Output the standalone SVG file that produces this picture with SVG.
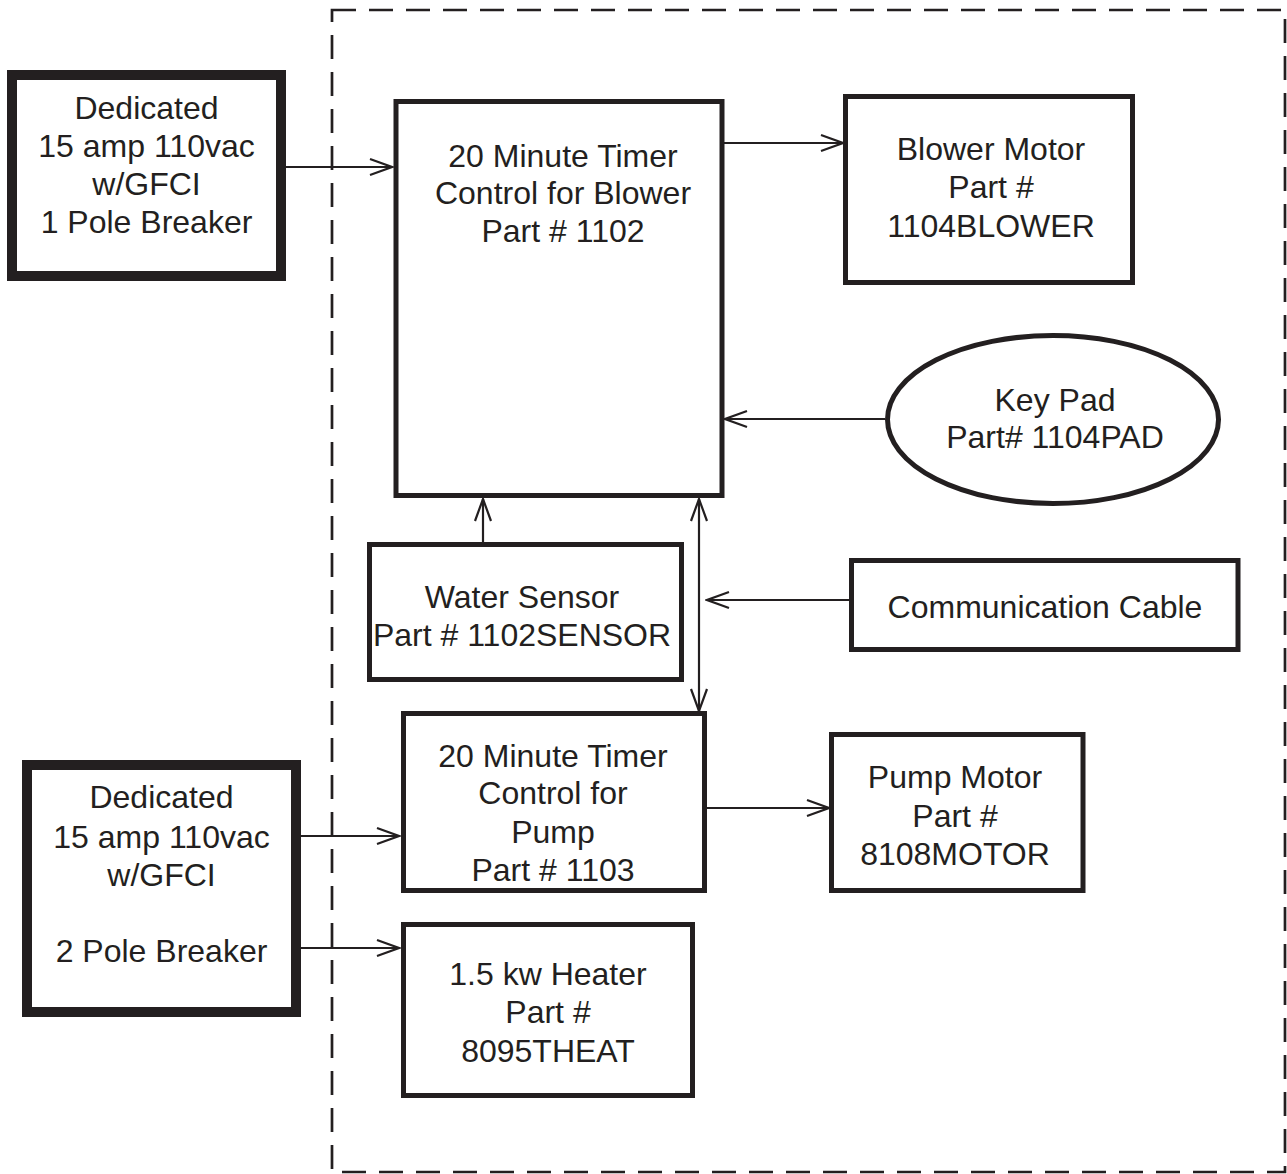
<svg xmlns="http://www.w3.org/2000/svg" width="1287" height="1174" viewBox="0 0 1287 1174">
<style>
  .bg { fill: #ffffff; }
  .box { fill: #ffffff; stroke: #231f20; stroke-width: 5; }
  .thick { fill: #ffffff; stroke: #231f20; stroke-width: 10; }
  .frame { fill: none; stroke: #231f20; stroke-width: 2.7; stroke-dasharray: 24 13; }
  .conn { fill: none; stroke: #231f20; stroke-width: 2.2; }
  text { font-family: "Liberation Sans", Arial, Helvetica, sans-serif; font-size: 32px; fill: #231f20; text-anchor: middle; }
</style>
<defs>
  <marker id="arr" viewBox="-2 -2 26 20" refX="22" refY="8" markerWidth="26" markerHeight="20" markerUnits="userSpaceOnUse" orient="auto-start-reverse">
    <path d="M0,0 L22,8 L0,16" fill="none" stroke="#231f20" stroke-width="2.2"/>
  </marker>
</defs>
<rect class="bg" x="0" y="0" width="1287" height="1174"/>

<g id="enclosure">
  <rect class="frame" x="332" y="10" width="953" height="1162"/>
</g>

<g id="connectors">
  <line class="conn" x1="286" y1="167" x2="392" y2="167" marker-end="url(#arr)"/>
  <line class="conn" x1="722" y1="143" x2="843" y2="143" marker-end="url(#arr)"/>
  <line class="conn" x1="885" y1="419" x2="725" y2="419" marker-end="url(#arr)"/>
  <line class="conn" x1="483" y1="542" x2="483" y2="499" marker-end="url(#arr)"/>
  <line class="conn" x1="699" y1="499" x2="699" y2="711" marker-start="url(#arr)" marker-end="url(#arr)"/>
  <line class="conn" x1="849" y1="600" x2="707" y2="600" marker-end="url(#arr)"/>
  <line class="conn" x1="301" y1="836" x2="399" y2="836" marker-end="url(#arr)"/>
  <line class="conn" x1="301" y1="948" x2="399" y2="948" marker-end="url(#arr)"/>
  <line class="conn" x1="707" y1="808" x2="829" y2="808" marker-end="url(#arr)"/>
</g>

<g id="power1">
  <rect class="thick" x="12" y="75" width="269" height="201"/>
  <text x="146.5" y="119">Dedicated</text>
  <text x="146.5" y="157">15 amp 110vac</text>
  <text x="146.5" y="195">w/GFCI</text>
  <text x="146.5" y="233">1 Pole Breaker</text>
</g>

<g id="timer-blower">
  <rect class="box" x="396" y="101.5" width="326" height="394"/>
  <text x="563" y="167">20 Minute Timer</text>
  <text x="563" y="204">Control for Blower</text>
  <text x="563" y="242">Part # 1102</text>
</g>

<g id="blower-motor">
  <rect class="box" x="845.5" y="96.5" width="287" height="186"/>
  <text x="991" y="160">Blower Motor</text>
  <text x="991" y="198">Part #</text>
  <text x="991" y="237">1104BLOWER</text>
</g>

<g id="keypad">
  <ellipse class="box" cx="1053" cy="419.5" rx="165.5" ry="84"/>
  <text x="1055" y="411">Key Pad</text>
  <text x="1055" y="448">Part# 1104PAD</text>
</g>

<g id="water-sensor">
  <rect class="box" x="369.5" y="544.5" width="312" height="135"/>
  <text x="522" y="608">Water Sensor</text>
  <text x="522" y="646">Part # 1102SENSOR</text>
</g>

<g id="comm-cable">
  <rect class="box" x="851.5" y="560.5" width="386.5" height="89"/>
  <text x="1045" y="618">Communication Cable</text>
</g>

<g id="timer-pump">
  <rect class="box" x="403.5" y="713.5" width="301" height="177"/>
  <text x="553" y="767">20 Minute Timer</text>
  <text x="553" y="804">Control for</text>
  <text x="553" y="843">Pump</text>
  <text x="553" y="881">Part # 1103</text>
</g>

<g id="pump-motor">
  <rect class="box" x="831.5" y="734.5" width="251.5" height="156"/>
  <text x="955" y="788">Pump Motor</text>
  <text x="955" y="827">Part #</text>
  <text x="955" y="865">8108MOTOR</text>
</g>

<g id="power2">
  <rect class="thick" x="27" y="765" width="269" height="247"/>
  <text x="161.5" y="808">Dedicated</text>
  <text x="161.5" y="848">15 amp 110vac</text>
  <text x="161.5" y="886">w/GFCI</text>
  <text x="161.5" y="962">2 Pole Breaker</text>
</g>

<g id="heater">
  <rect class="box" x="403.5" y="924.5" width="289" height="171"/>
  <text x="548" y="985">1.5 kw Heater</text>
  <text x="548" y="1023">Part #</text>
  <text x="548" y="1062">8095THEAT</text>
</g>
</svg>
